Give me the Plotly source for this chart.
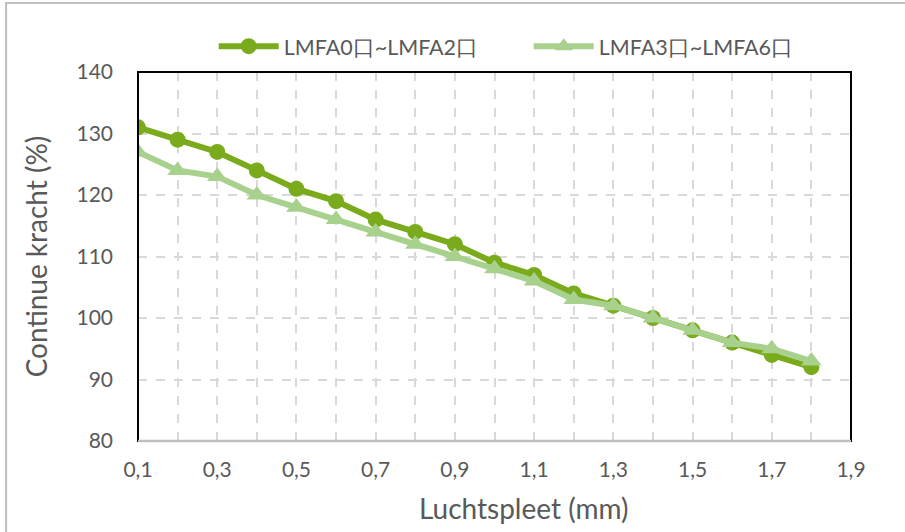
import plotly.graph_objects as go

x_vals = [0.1, 0.2, 0.3, 0.4, 0.5, 0.6, 0.7, 0.8, 0.9, 1.0, 1.1, 1.2, 1.3, 1.4, 1.5, 1.6, 1.7, 1.8]
series_a = [131, 129, 127, 124, 121, 119, 116, 114, 112, 109, 107, 104, 102, 100, 98, 96, 94, 92]
series_b = [127, 124, 123, 120, 118, 116, 114, 112, 110, 108, 106, 103, 102, 100, 98, 96, 95, 93]
name_a = "LMFA0口~LMFA2口"
name_b = "LMFA3口~LMFA6口"
x_ticks = [0.1, 0.3, 0.5, 0.7, 0.9, 1.1, 1.3, 1.5, 1.7, 1.9]
y_ticks = [80, 90, 100, 110, 120, 130, 140]
x_title = "Luchtspleet (mm)"
y_title = "Continue kracht (%)"

dark = "#7AAB1C"
light = "#A9D18E"
font_fam = "Lato, Open Sans, sans-serif"

fig = go.Figure()
fig.add_trace(go.Scatter(x=x_vals, y=series_a, name=name_a, mode="lines+markers",
                         line=dict(color=dark, width=6),
                         marker=dict(symbol="circle", size=16, color=dark)))
fig.add_trace(go.Scatter(x=x_vals, y=series_b, name=name_b, mode="lines+markers",
                         line=dict(color=light, width=6),
                         marker=dict(symbol="triangle-up", size=18, color=light)))

fig.update_layout(
    width=905, height=532,
    margin=dict(l=138, r=54, t=72, b=91),
    paper_bgcolor="white", plot_bgcolor="white",
    separators=",.",
    font=dict(family=font_fam, color="#595959", size=21),
    showlegend=True,
    legend=dict(orientation="h", x=0.548, xanchor="center", y=1.07, yanchor="middle",
                font=dict(size=21.5, color="#595959"), itemwidth=60, entrywidth=240,
                bgcolor="rgba(0,0,0,0)"),
    xaxis=dict(range=[0.1, 1.9], tickvals=x_ticks, tickformat=".1f",
               showgrid=True, gridcolor="#D9D9D9", griddash="dash", gridwidth=1.5,
               minor=dict(dtick=0.1, tick0=0.1, showgrid=True, gridcolor="#D9D9D9",
                          griddash="dash", gridwidth=1.5),
               zeroline=False, showline=False, ticks="", ticklabelstandoff=14,
               tickfont=dict(size=21)),
    yaxis=dict(range=[80, 140], tickvals=y_ticks,
               showgrid=True, gridcolor="#D9D9D9", griddash="dash", gridwidth=1.5,
               zeroline=False, showline=False, ticks="", ticklabelstandoff=24,
               title=dict(text=y_title, font=dict(size=28, color="#595959"), standoff=20),
               tickfont=dict(size=21)),
    annotations=[
        dict(text=x_title, xref="paper", yref="paper", x=0.541, y=-0.182,
             xanchor="center", yanchor="middle", showarrow=False,
             font=dict(size=28, color="#595959")),
    ],
    shapes=[
        dict(type="rect", xref="paper", yref="paper", x0=0, x1=1, y0=0, y1=1,
             line=dict(color="black", width=2), layer="above"),
        dict(type="line", xref="paper", yref="paper", x0=0, x1=1, y0=0, y1=0,
             line=dict(color="#BFBFBF", width=2.5), layer="above"),
        dict(type="rect", xref="paper", yref="paper", x0=-0.185, x1=1.2, y0=-0.4, y1=1.187,
             line=dict(color="#BFBFBF", width=2), layer="below"),
    ],
)

fig.write_html("out.html")
